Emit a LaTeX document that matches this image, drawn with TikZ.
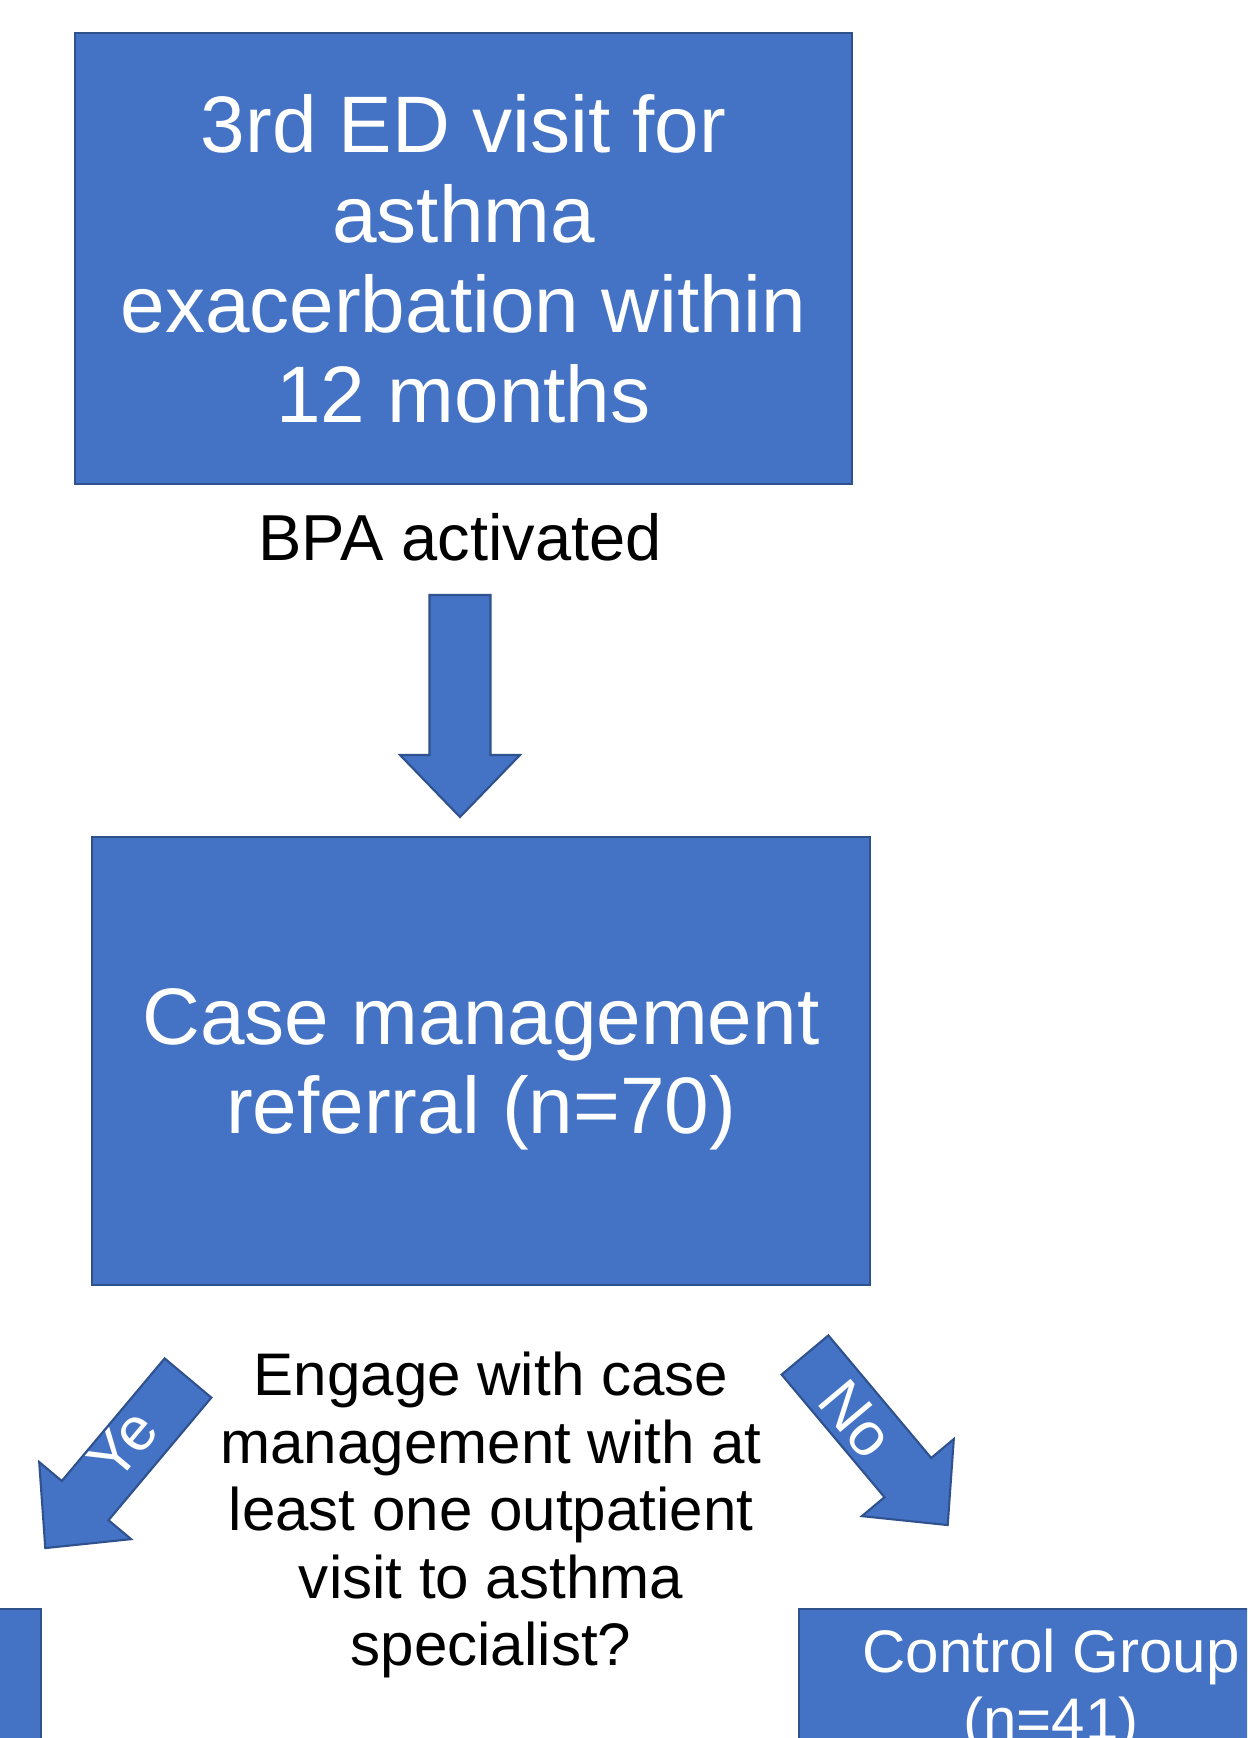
\documentclass[tikz,border=0pt]{standalone}
\usepackage{fontspec}
\setmainfont{Liberation Sans}
\usepackage{xcolor}
\definecolor{flowblue}{RGB}{68,114,196}
\definecolor{flowedge}{RGB}{47,82,143}
\usepackage{tikz}
\usetikzlibrary{positioning}

\tikzset{
  flowbox/.style={rectangle, fill=flowblue, draw=flowedge, line width=0.6pt, text=white, align=center, inner sep=0pt, font=\fontsize{22.8}{25.6}\selectfont},
  smallbox/.style={flowbox, font=\fontsize{17.1}{19.2}\selectfont},
  plaintext/.style={text=black, align=center, inner sep=0pt},
  armlabel/.style={text=white, inner sep=0pt, font=\fontsize{17.4}{19.2}\selectfont},
  pics/blockarrow/.style={code={
    \fill[flowblue, draw=flowedge, line width=0.6pt] (0,-0.305) -- (1.60,-0.305) -- (1.60,-0.60) -- (2.22,0) -- (1.60,0.60) -- (1.60,0.305) -- (0,0.305) -- cycle;
  }}
}

\begin{document}
\begin{tikzpicture}
  % page frame
  \clip (0,0) rectangle (12.47,-17.38);
  \fill[white] (0,0) rectangle (12.47,-17.38);

  % --- Trigger ---
  \node (visit) [flowbox, minimum width=7.77cm, minimum height=4.51cm] at (4.635,-2.585) {3rd ED visit for\\asthma\\exacerbation within\\12 months};
  \node (bpa) [plaintext, anchor=base, font=\fontsize{18.5}{22}\selectfont] at (4.60,-5.60) {BPA activated};
  \pic[rotate=-90] at (4.60,-5.95) {blockarrow};

  % --- Referral ---
  \node (referral) [flowbox, minimum width=7.78cm, minimum height=4.48cm, text depth=0pt] at (4.81,-10.61) {Case management\\referral (n=70)};

  % --- Decision ---
  \node (question) [plaintext, font=\fontsize{17.1}{19.2}\selectfont] at (4.91,-15.15) {Engage with case\\management with at\\least one outpatient\\visit to asthma\\specialist?};
  \pic[rotate=230] at (1.88,-13.78) {blockarrow};
  \node (yes) [armlabel, rotate=50] at (1.23,-14.45) {Ye};
  \pic[rotate=-50] at (8.05,-13.55) {blockarrow};
  \node (no) [armlabel, rotate=-50] at (8.56,-14.19) {No};

  % --- Groups ---
  \node (treated) [flowbox, anchor=north east, minimum width=5.04cm, minimum height=2cm] at (0.42,-16.08) {};
  \node (control) [smallbox, anchor=north, minimum width=5.04cm, inner ysep=0.2cm, text depth=1.5cm] at (10.51,-16.08) {Control Group\\(n=41)};
\end{tikzpicture}
\end{document}
